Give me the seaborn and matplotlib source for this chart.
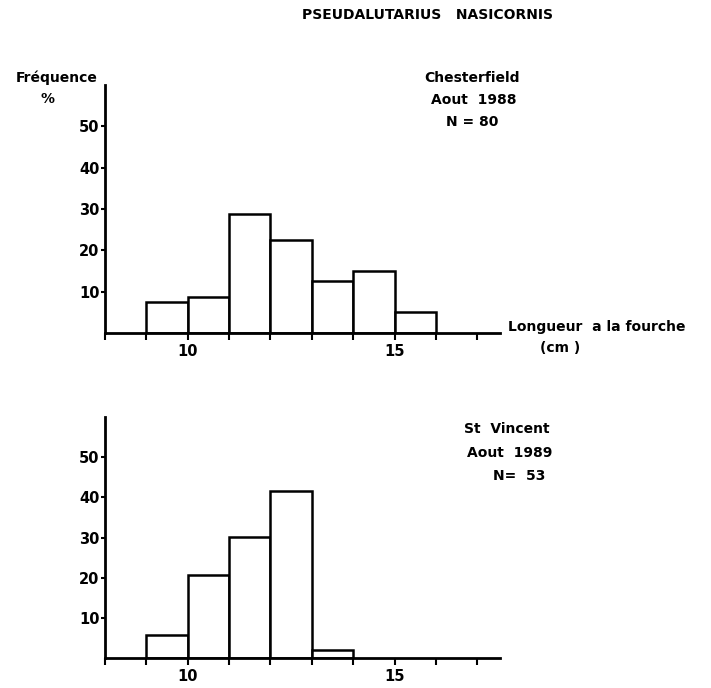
import numpy as np
import matplotlib
matplotlib.use("Agg")
import matplotlib.pyplot as plt
import seaborn as sns

# bins of fork length (cm), percentages
edges = [9, 10, 11, 12, 13, 14, 15, 16]
chesterfield_pct = [7.5, 8.75, 28.75, 22.5, 12.5, 15.0, 5.0]
st_vincent_edges = [9, 10, 11, 12, 13, 14]
st_vincent_pct = [5.66, 20.75, 30.19, 41.51, 1.89]

x_ticks = [8, 9, 10, 11, 12, 13, 14, 15, 16, 17]
x_labels = ["", "", "10", "", "", "", "", "15", "", ""]
y_ticks = [10, 20, 30, 40, 50]

sns.set_style("white")
plt.rcParams["font.family"] = ["DejaVu Sans"]
plt.rcParams["font.weight"] = "bold"
plt.rcParams["text.color"] = "black"

fig = plt.figure(figsize=(7.11, 6.88), dpi=100)
ax1 = fig.add_axes([0.1477, 0.516, 0.5556, 0.3605])
ax2 = fig.add_axes([0.1477, 0.0436, 0.5556, 0.350])


def draw(ax, e, pct):
    mids = np.array(e[:-1]) + 0.5
    sns.histplot(x=mids, weights=pct, bins=e, ax=ax, color="white",
                 edgecolor="black", linewidth=1.8, alpha=1)
    ax.set_xlim(8, 17.55)
    ax.set_ylim(0, 60)
    ax.set_xticks(x_ticks)
    ax.set_xticklabels(x_labels)
    ax.set_yticks(y_ticks)
    ax.set_xlabel("")
    ax.set_ylabel("")
    for s in ["top", "right"]:
        ax.spines[s].set_visible(False)
    for s in ["left", "bottom"]:
        ax.spines[s].set_color("black")
        ax.spines[s].set_linewidth(2)
    ax.tick_params(axis="x", direction="out", length=5, width=1.5,
                   bottom=True, labelsize=10.5, pad=3, colors="black")
    ax.tick_params(axis="y", direction="out", length=3, width=1.5,
                   left=True, labelsize=10.5, pad=1, colors="black")
    for t in ax.get_xticklabels() + ax.get_yticklabels():
        t.set_fontweight("bold")


draw(ax1, edges, chesterfield_pct)
draw(ax2, st_vincent_edges, st_vincent_pct)

fs = 10
kw = dict(fontsize=fs, fontweight="bold", color="black", va="center")
fig.text(428 / 711, 1 - 15 / 688, "PSEUDALUTARIUS   NASICORNIS", ha="center", **kw)
fig.text(57 / 711, 1 - 78 / 688, "Fréquence", ha="center", **kw)
fig.text(47 / 711, 1 - 99 / 688, "%", ha="center", **kw)

fig.text(472 / 711, 1 - 78 / 688, "Chesterfield", ha="center", **kw)
fig.text(474 / 711, 1 - 100 / 688, "Aout  1988", ha="center", **kw)
fig.text(472 / 711, 1 - 122 / 688, "N = 80", ha="center", **kw)

fig.text(508 / 711, 1 - 327 / 688, "Longueur  a la fourche", ha="left", **kw)
fig.text(560 / 711, 1 - 348 / 688, "(cm )", ha="center", **kw)

fig.text(507 / 711, 1 - 429 / 688, "St  Vincent", ha="center", **kw)
fig.text(510 / 711, 1 - 453 / 688, "Aout  1989", ha="center", **kw)
fig.text(519 / 711, 1 - 476 / 688, "N=  53", ha="center", **kw)

fig.savefig("out.png", dpi=100)
